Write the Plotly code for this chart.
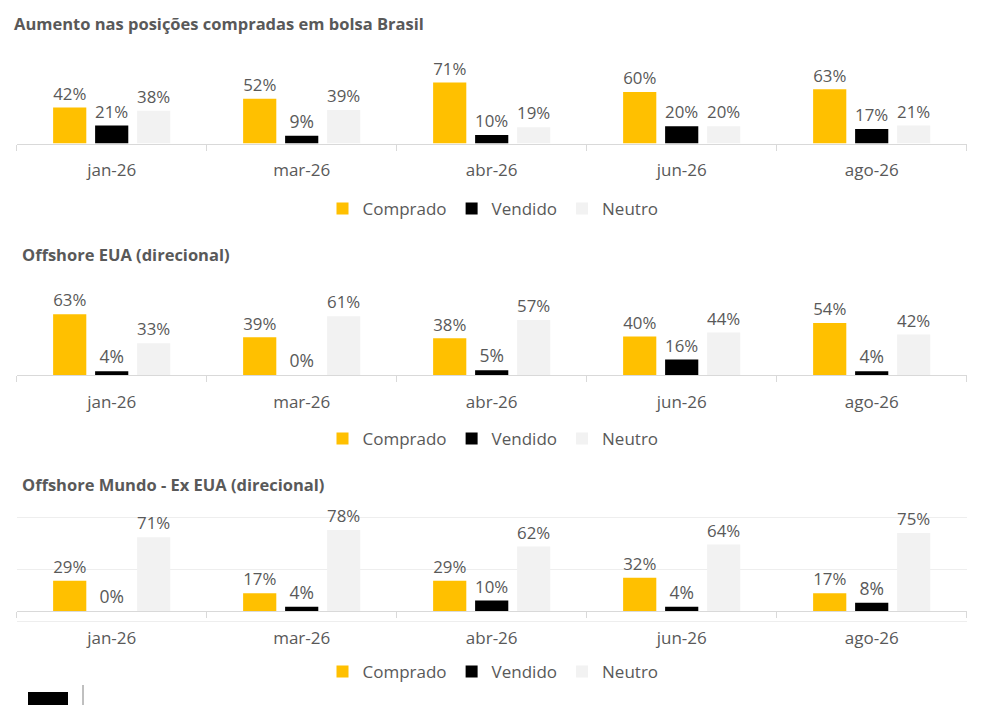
import plotly.graph_objects as go

# dados
meses = ["jan-26", "mar-26", "abr-26", "jun-26", "ago-26"]
series = ["Comprado", "Vendido", "Neutro"]

brasil_comprado = [0.42, 0.52, 0.71, 0.60, 0.63]
brasil_vendido = [0.21, 0.09, 0.10, 0.20, 0.17]
brasil_neutro = [0.38, 0.39, 0.19, 0.20, 0.21]

eua_comprado = [0.63, 0.39, 0.38, 0.40, 0.54]
eua_vendido = [0.04, 0.00, 0.05, 0.16, 0.04]
eua_neutro = [0.33, 0.61, 0.57, 0.44, 0.42]

mundo_comprado = [0.29, 0.17, 0.29, 0.32, 0.17]
mundo_vendido = [0.00, 0.04, 0.10, 0.04, 0.08]
mundo_neutro = [0.71, 0.78, 0.62, 0.64, 0.75]

titulos = [
    "Aumento nas posições compradas em bolsa Brasil",
    "Offshore EUA (direcional)",
    "Offshore Mundo - Ex EUA (direcional)",
]

W, H = 982, 705
OFF = 8  # margem do body da página
cores = {"Comprado": "#FFC000", "Vendido": "#000000", "Neutro": "#F2F2F2"}
cinza = "#595959"
fonte = "Open Sans"


def py(px):
    # pixel da tela (de cima) -> coordenada paper
    return 1 - (px - OFF) / H


def px_x(px):
    return (px - OFF) / W


paineis = [
    dict(dados=[brasil_comprado, brasil_vendido, brasil_neutro], eixo=143.5, topo=57.5,
         faixa=[0, 1.0], titulo_y=23, titulo_x=12, legenda_y=209, grid=False),
    dict(dados=[eua_comprado, eua_vendido, eua_neutro], eixo=375, topo=278.5,
         faixa=[0, 1.0], titulo_y=255, titulo_x=20, legenda_y=439, grid=False),
    dict(dados=[mundo_comprado, mundo_vendido, mundo_neutro], eixo=611, fundo=622.4, topo=516.4,
         faixa=[-0.11, 0.91], titulo_y=484, titulo_x=20, legenda_y=672, grid=True),
]

fig = go.Figure()
layout = {}
anotacoes = []

for i, p in enumerate(paineis):
    n = "" if i == 0 else str(i + 1)
    leg = "legend" + n
    for nome, vals in zip(series, p["dados"]):
        fig.add_trace(go.Bar(
            x=meses, y=vals, name=nome,
            marker=dict(color=cores[nome], line=dict(width=0)),
            texttemplate="%{y:.0%}", textposition="outside",
            textfont=dict(family=fonte, size=17.5, color=cinza),
            cliponaxis=False,
            xaxis="x" + n, yaxis="y" + n,
            legend=leg,
            hoverinfo="skip",
        ))

    fundo = p.get("fundo", p["eixo"])
    layout["xaxis" + n] = dict(
        domain=[px_x(16.7), px_x(966.7)],
        anchor="free" if p["grid"] else "y" + n,
        position=py(p["eixo"]) if p["grid"] else None,
        showline=True, linecolor="#D9D9D9", linewidth=1.3,
        ticks="outside", tickson="boundaries", ticklen=6, tickcolor="#D9D9D9",
        ticklabelstandoff=11,
        tickfont=dict(family=fonte, size=17, color=cinza),
        showgrid=False, zeroline=False, fixedrange=True,
    )
    layout["yaxis" + n] = dict(
        domain=[py(fundo), py(p["topo"])],
        anchor="x" + n,
        range=p["faixa"],
        showticklabels=False,
        showgrid=p["grid"], gridcolor="#EEEEEE", gridwidth=1,
        tick0=-0.1, dtick=0.5,
        zeroline=False, showline=False, fixedrange=True,
    )
    layout[leg] = dict(
        orientation="h", x=px_x(493), xanchor="center",
        y=py(p["legenda_y"]), yanchor="middle",
        font=dict(family=fonte, size=17, color=cinza),
        bgcolor="rgba(0,0,0,0)",
    )
    anotacoes.append(dict(
        text=titulos[i], xref="paper", yref="paper",
        x=px_x(p["titulo_x"]), y=py(p["titulo_y"]),
        xanchor="left", yanchor="middle", showarrow=False,
        font=dict(family=fonte, size=16.5, color=cinza, weight="bold"),
    ))

fig.update_layout(
    width=W, height=H, autosize=False,
    margin=dict(l=0, r=0, t=0, b=0),
    paper_bgcolor="white", plot_bgcolor="white",
    barmode="group", bargap=0.337, bargroupgap=0.21,
    annotations=anotacoes,
    **layout,
)

# pedaço do logo cortado no canto inferior
fig.add_shape(type="rect", xref="paper", yref="paper",
              x0=px_x(28), x1=px_x(68), y0=py(712), y1=py(692),
              fillcolor="black", line=dict(width=0))
fig.add_shape(type="line", xref="paper", yref="paper",
              x0=px_x(83), x1=px_x(83), y0=py(705), y1=py(685),
              line=dict(color="#808080", width=1))

fig.write_html("out.html")
